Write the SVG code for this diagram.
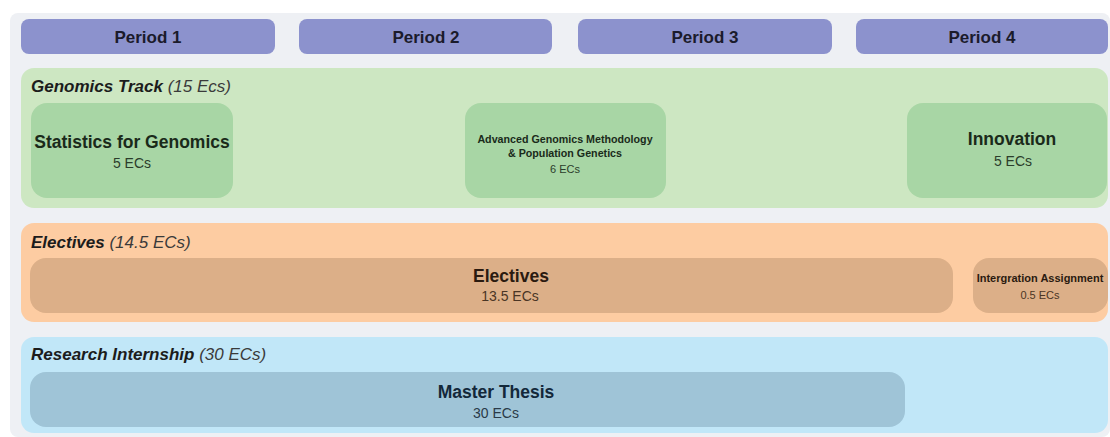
<svg xmlns="http://www.w3.org/2000/svg" width="1110" height="437" viewBox="0 0 1110 437">
<style>
text{font-family:"Liberation Sans",Arial,sans-serif}
.bg{fill:#eef0f4}
.per{fill:#8c92cd}
.pt{font-size:17px;font-weight:bold;fill:#1b1b2b;text-anchor:middle}
.lab{font-size:17px;font-style:italic;fill:#1c1c1c}
.lab .b{font-weight:bold}
.lab .r{fill:#3a3a3a}
.gp{fill:#cde7c2}
.gb{fill:#a8d6a5}
.op{fill:#fdcca2}
.ob{fill:#dcaf88}
.bp{fill:#c1e7f8}
.bb{fill:#9fc4d7}
.t{font-size:17.5px;font-weight:bold;text-anchor:middle}
.s{font-size:14px;text-anchor:middle}
.gt{fill:#1a2a1a}
.gs{fill:#2b3d2b}
.ot{fill:#2a1a10}
.os{fill:#4a3525}
.bt{fill:#13283a}
.bs{fill:#2a3a48}
</style>
<rect class="bg" x="10" y="13" width="1100" height="424" rx="8"/>
<g id="period1"><rect class="per" x="21" y="19" width="254" height="35" rx="8"/><text class="pt" x="148" y="43">Period 1</text></g>
<g id="period2"><rect class="per" x="299" y="19" width="253" height="35" rx="8"/><text class="pt" x="426" y="43">Period 2</text></g>
<g id="period3"><rect class="per" x="578" y="19" width="254" height="35" rx="8"/><text class="pt" x="705" y="43">Period 3</text></g>
<g id="period4"><rect class="per" x="856" y="19" width="252" height="35" rx="8"/><text class="pt" x="982" y="43">Period 4</text></g>
<g id="genomics-track">
<rect class="gp" x="21" y="68" width="1087" height="140" rx="13"/>
<text class="lab" x="31" y="92"><tspan class="b">Genomics Track</tspan><tspan class="r"> (15 Ecs)</tspan></text>
</g>
<g id="statistics">
<rect class="gb" x="31" y="103" width="202" height="95" rx="16"/>
<text class="t gt" x="132" y="148">Statistics for Genomics</text>
<text class="s gs" x="132" y="168">5 ECs</text>
</g>
<g id="advanced">
<rect class="gb" x="465" y="103" width="201" height="95" rx="16"/>
<text class="gt" x="565" y="143" style="font-size:10.7px;font-weight:bold;text-anchor:middle">Advanced Genomics Methodology</text>
<text class="gt" x="565" y="157" style="font-size:10.7px;font-weight:bold;text-anchor:middle">&amp; Population Genetics</text>
<text class="gs" x="565" y="173" style="font-size:11px;text-anchor:middle">6 ECs</text>
</g>
<g id="innovation">
<rect class="gb" x="907" y="103" width="200" height="95" rx="16"/>
<text class="t gt" x="1012" y="145">Innovation</text>
<text class="s gs" x="1013" y="166">5 ECs</text>
</g>
<g id="electives-track">
<rect class="op" x="21" y="223" width="1087" height="99" rx="13"/>
<text class="lab" x="31" y="248"><tspan class="b">Electives</tspan><tspan class="r"> (14.5 ECs)</tspan></text>
</g>
<g id="electives">
<rect class="ob" x="30" y="258" width="923" height="55" rx="16"/>
<text class="t ot" x="511" y="282">Electives</text>
<text class="s os" x="510" y="301">13.5 ECs</text>
</g>
<g id="integration">
<rect class="ob" x="973" y="258" width="135" height="55" rx="16"/>
<text class="ot" x="1040" y="282" style="font-size:11px;font-weight:bold;text-anchor:middle">Intergration Assignment</text>
<text class="os" x="1040" y="299" style="font-size:11px;text-anchor:middle">0.5 ECs</text>
</g>
<g id="research-track">
<rect class="bp" x="21" y="337" width="1087" height="96" rx="13"/>
<text class="lab" x="31" y="360"><tspan class="b">Research Internship</tspan><tspan class="r"> (30 ECs)</tspan></text>
</g>
<g id="master-thesis">
<rect class="bb" x="30" y="372" width="875" height="55" rx="16"/>
<text class="t bt" x="496" y="398">Master Thesis</text>
<text class="s bs" x="496" y="418">30 ECs</text>
</g>
<g id="connectors"/>
</svg>
